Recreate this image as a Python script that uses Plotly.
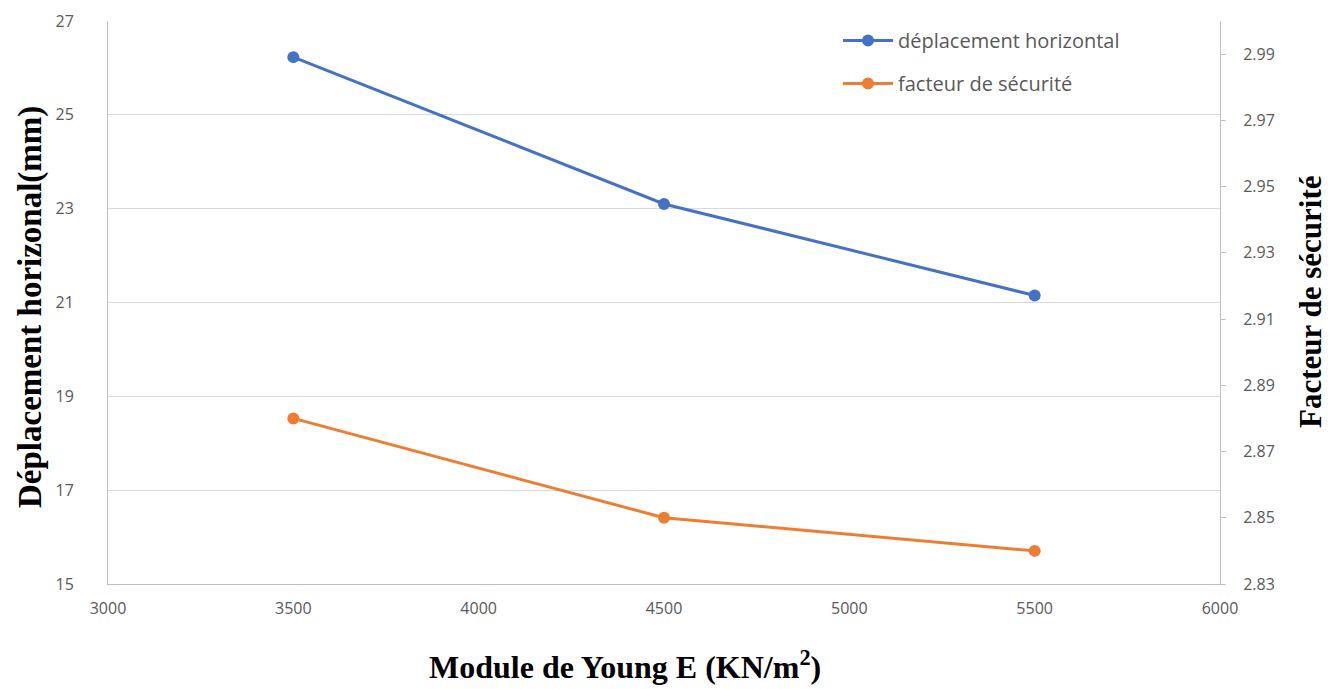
import plotly.graph_objects as go

x_vals = [3500, 4500, 5500]
deplacement = [26.23, 23.1, 21.15]
facteur = [2.88, 2.85, 2.84]
left_ticks = [15, 17, 19, 21, 23, 25, 27]
right_ticks = [2.83, 2.85, 2.87, 2.89, 2.91, 2.93, 2.95, 2.97, 2.99]
x_ticks = [3000, 3500, 4000, 4500, 5000, 5500, 6000]

blue = "#4472C4"
orange = "#ED7D31"
tickfont = dict(family="Open Sans, Liberation Sans, sans-serif", size=16, color="#595959")


def titlefont(size):
    return dict(family="Liberation Serif, Times New Roman, serif", size=size, color="black", weight="bold")


fig = go.Figure()
fig.add_trace(go.Scatter(x=x_vals, y=deplacement, mode="lines+markers", name="déplacement horizontal",
                         legendgroup="a",
                         line=dict(color=blue, width=3), marker=dict(size=12, color=blue)))
fig.add_trace(go.Scatter(x=x_vals, y=facteur, mode="lines+markers", name="facteur de sécurité",
                         legendgroup="b",
                         line=dict(color=orange, width=3), marker=dict(size=12, color=orange), yaxis="y2"))

# plot area in page pixels: x 108..1220, y 21..584 (page body has 8px margin)
fig.update_layout(
    width=1333, height=689,
    margin=dict(l=100, r=121, t=13, b=113, autoexpand=False),
    plot_bgcolor="white", paper_bgcolor="white",
    showlegend=True,
    legend=dict(x=(838 - 108) / 1112, y=1.0, xanchor="left", yanchor="top", bgcolor="rgba(0,0,0,0)",
                font=dict(family="Open Sans, Liberation Sans, sans-serif", size=20, color="#595959"),
                traceorder="grouped", tracegroupgap=14, itemwidth=50),
    xaxis=dict(range=[3000, 6000], tickvals=x_ticks, ticktext=[str(v) for v in x_ticks],
               showgrid=False, showline=True, linecolor="#BFBFBF", linewidth=1, ticks="",
               tickfont=tickfont, zeroline=False, ticklabelstandoff=10, automargin=False),
    yaxis=dict(range=[15, 27], tickvals=left_ticks, ticktext=[str(v) for v in left_ticks],
               showgrid=True, gridcolor="#D9D9D9", gridwidth=1, showline=True, linecolor="#BFBFBF",
               ticks="", tickfont=tickfont, zeroline=False, ticklabelstandoff=30, automargin=False),
    yaxis2=dict(range=[2.83, 3.0], tickvals=right_ticks, ticktext=[f"{v:.2f}" for v in right_ticks],
                overlaying="y", side="right", showgrid=False, showline=True, linecolor="#BFBFBF",
                ticks="outside", ticklen=5, tickcolor="#BFBFBF", tickfont=tickfont, zeroline=False,
                ticklabelstandoff=14, automargin=False),
    annotations=[
        dict(text="Module de Young E (KN/m<sup>2</sup>)", xref="paper", yref="paper",
             x=(625 - 108) / 1112, y=-(665 - 584) / 563,
             xanchor="center", yanchor="middle", showarrow=False, font=titlefont(32)),
        dict(text="Déplacement horizonal(mm)", xref="paper", yref="paper",
             x=-(108 - 30) / 1112, y=(584 - 307) / 563,
             xanchor="center", yanchor="middle", textangle=-90, showarrow=False, font=titlefont(33)),
        dict(text="Facteur de sécurité", xref="paper", yref="paper",
             x=1 + (1310 - 1220) / 1112, y=(584 - 302) / 563,
             xanchor="center", yanchor="middle", textangle=-90, showarrow=False, font=titlefont(31)),
    ],
)

fig.write_html("out.html")
